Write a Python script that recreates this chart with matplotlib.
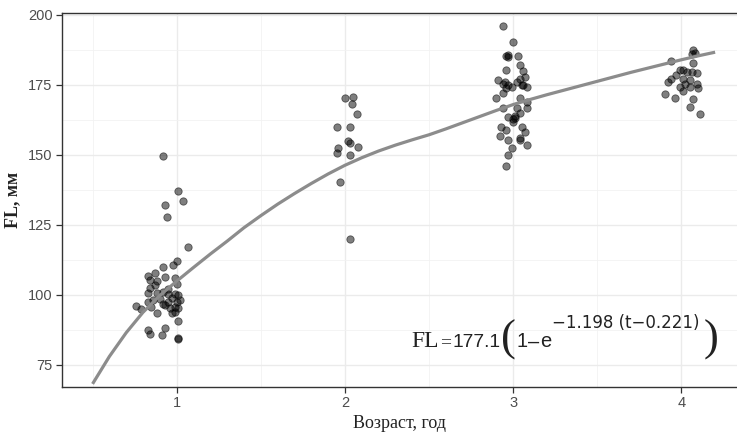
import matplotlib
matplotlib.use("Agg")
import matplotlib.pyplot as plt
from matplotlib.ticker import MultipleLocator

# ---- data ----
age1_x = [0.92, 1.01, 1.04, 0.93, 0.94, 1.07, 1.00, 0.98, 0.92, 0.87, 0.83, 0.84, 0.93, 0.99, 1.00,
          0.88, 0.84, 0.83, 0.88, 0.92, 0.95, 0.99, 1.01, 0.90, 0.86, 0.83, 0.76, 0.79, 0.88, 0.93,
          0.96, 0.99, 1.01, 1.00, 0.95, 0.99, 1.01, 0.83, 0.84, 0.91, 0.93, 1.01, 1.01,
          0.87, 0.95, 0.97, 0.92, 0.97, 0.85, 1.02]
age1_y = [149.7, 137.2, 133.4, 132.0, 127.7, 117.1, 112.2, 110.5, 109.9, 107.9, 106.7, 105.2, 106.5, 106.0, 104.0,
          105.0, 102.5, 100.8, 100.8, 101.0, 100.3, 100.3, 100.0, 98.6, 98.0, 97.5, 96.0, 94.8, 93.4, 96.3,
          95.2, 95.8, 95.2, 97.5, 97.5, 94.0, 90.5, 87.5, 86.2, 85.7, 88.0, 84.7, 84.3,
          103.5, 102.0, 99.0, 96.8, 93.6, 95.5, 98.2]

age2_x = [2.00, 2.05, 2.04, 2.07, 1.95, 2.03, 2.02, 2.03, 2.08, 1.96, 1.95, 2.03, 1.97, 2.03]
age2_y = [170.4, 170.8, 168.2, 164.6, 160.1, 160.1, 154.8, 154.4, 153.0, 152.4, 150.6, 149.8, 140.5, 119.8]

age3_x = [2.94, 3.00, 2.96, 2.97, 3.03, 3.04, 2.96, 3.06, 2.91, 3.04, 3.07, 2.94, 2.97, 2.99, 3.02,
          3.05, 3.08, 2.90, 2.94, 3.04, 3.08, 2.94, 3.02, 3.08, 2.97, 3.00, 3.01, 3.04, 2.93, 2.96,
          3.05, 3.07, 2.92, 2.97, 3.04, 3.08, 2.99, 2.97, 2.96,
          2.95, 2.96, 3.06, 3.01, 3.00, 3.04, 2.97]
age3_y = [196.0, 190.4, 185.4, 185.0, 185.4, 182.3, 180.3, 179.9, 176.7, 177.3, 177.9, 175.2, 175.0, 174.4, 176.1,
          175.0, 174.4, 170.2, 172.0, 170.2, 169.0, 166.6, 166.6, 166.6, 163.7, 161.9, 163.1, 164.9, 160.1, 158.9,
          160.1, 158.3, 156.6, 155.4, 155.4, 153.4, 152.4, 149.8, 146.1,
          176.0, 174.0, 174.8, 164.0, 162.8, 155.9, 185.6]

age4_x = [4.07, 4.08, 4.06, 3.94, 4.07, 3.99, 4.01, 4.03, 4.06, 4.09, 3.97, 3.94, 4.01, 4.05, 3.92,
          4.02, 4.05, 4.09, 4.10, 3.99, 4.01, 3.90, 3.96, 4.07, 4.05, 4.11]
age4_y = [187.4, 186.5, 186.0, 183.6, 182.9, 180.3, 180.3, 179.7, 179.7, 179.1, 178.5, 177.3, 177.3, 176.7, 176.1,
          175.5, 174.4, 175.5, 173.8, 174.4, 172.9, 171.8, 170.2, 169.8, 167.2, 164.6]

curve_t = [0.5, 0.6, 0.7, 0.8, 0.9, 1.0, 1.1, 1.2, 1.3, 1.4, 1.5, 1.6, 1.7, 1.8, 1.9, 2.0,
           2.1, 2.2, 2.3, 2.4, 2.5, 2.6, 2.7, 2.8, 2.9, 3.0, 3.1, 3.2, 3.3, 3.4, 3.5,
           3.6, 3.7, 3.8, 3.9, 4.0, 4.1, 4.2]
curve_fl = [68.2, 78.0, 86.5, 93.8, 99.8, 104.9, 109.8, 114.6, 119.2, 124.0, 128.3, 132.4, 136.2, 139.8, 143.2, 146.3,
            149.0, 151.4, 153.5, 155.4, 157.2, 159.3, 161.5, 163.7, 165.9, 168.0, 169.8, 171.5, 173.1, 174.7, 176.3,
            177.9, 179.5, 181.0, 182.5, 184.0, 185.4, 186.7]

x_ticks = [1, 2, 3, 4]
y_ticks = [75, 100, 125, 150, 175, 200]
x_label = "Возраст, год"
y_label = "FL, мм"

# ---- figure ----
fig = plt.figure(figsize=(7.37, 4.34), dpi=100)
ax = fig.add_axes([0.0845, 0.109, 1.0 - 0.0845, 0.9694 - 0.109])

xs = age1_x + age2_x + age3_x + age4_x
ys = age1_y + age2_y + age3_y + age4_y
ax.scatter(xs, ys, s=28, facecolor=(0, 0, 0, 0.5), edgecolor=(0, 0, 0, 0.55), linewidths=0.6, zorder=3)
ax.plot(curve_t, curve_fl, color='#8c8c8c', lw=2.3, solid_capstyle='butt', solid_joinstyle='round', zorder=4)

ax.set_xlim(0.32, 4.33)
ax.set_ylim(67.2, 200.6)
ax.set_xticks(x_ticks)
ax.set_yticks(y_ticks)
ax.xaxis.set_minor_locator(MultipleLocator(0.5))
ax.yaxis.set_minor_locator(MultipleLocator(12.5))
ax.grid(which='major', color='#ebebeb', lw=1.0, zorder=0)
ax.grid(which='minor', color='#f2f2f2', lw=0.6, zorder=0)
ax.set_axisbelow(True)

for s in ['left', 'bottom', 'top']:
    ax.spines[s].set_color('#333333')
    ax.spines[s].set_linewidth(1.0)
ax.spines['right'].set_visible(False)

ax.tick_params(which='major', length=4, width=0.9, color='#333333',
               labelcolor='#4d4d4d', labelsize=10.5, pad=3)
ax.tick_params(which='minor', length=0)
for lab in ax.get_xticklabels() + ax.get_yticklabels():
    lab.set_fontfamily('Liberation Sans')

ax.set_xlabel(x_label, fontfamily='Liberation Serif', fontsize=13, color='#222222', labelpad=3)
ax.set_ylabel(y_label, fontfamily='Liberation Serif', fontsize=13, color='#222222',
              fontweight='bold', labelpad=5)

# equation, placed piece by piece in pixel coordinates (origin bottom-left)
H = 434
eq_col = '#222222'
base = H - 347.3
fig.text(411.5, base, "FL", transform=None, fontfamily='Liberation Serif', fontsize=17,
         color=eq_col, ha='left', va='baseline')
fig.text(440.3, base, "=", transform=None, fontfamily='Liberation Serif', fontsize=14,
         color=eq_col, ha='left', va='baseline')
fig.text(452, base, "177.1", transform=None, fontfamily='Liberation Sans', fontsize=13.8,
         color=eq_col, ha='left', va='baseline')
fig.text(501, H - 340, "(", transform=None, fontfamily='Liberation Serif', fontsize=32,
         color=eq_col, ha='left', va='center')
fig.text(516.5, base, "1", transform=None, fontfamily='Liberation Sans', fontsize=14.5,
         color=eq_col, ha='left', va='baseline')
fig.text(527.5, base, "\u2013", transform=None, fontfamily='Liberation Sans', fontsize=14.5,
         color=eq_col, ha='left', va='baseline')
fig.text(540.5, base, "e", transform=None, fontfamily='Liberation Sans', fontsize=14.5,
         color=eq_col, ha='left', va='baseline')
fig.text(552, H - 328.5, "\u22121.198 (t\u22120.221)", transform=None, fontfamily='DejaVu Sans',
         fontsize=12, color=eq_col, ha='left', va='baseline')
fig.text(704, H - 340, ")", transform=None, fontfamily='Liberation Serif', fontsize=32,
         color=eq_col, ha='left', va='center')

fig.savefig("out.png", dpi=100)
